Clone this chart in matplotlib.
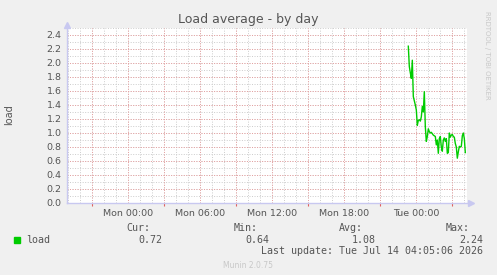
import matplotlib
matplotlib.use("Agg")
import matplotlib.pyplot as plt
import numpy as np

# time axis in hours relative to Mon 00:00, 5 minute samples
start_hour = 23.33
step_hours = 5 / 60
load = [2.24, 1.95, 1.86, 1.78, 2.04, 1.52, 1.46, 1.40, 1.33, 1.11,
        1.18, 1.19, 1.17, 1.23, 1.38, 1.30, 1.59, 1.09, 0.88, 0.95,
        1.06, 1.02, 1.00, 1.01, 0.99, 0.97, 0.96, 0.95, 0.83, 0.90,
        0.71, 0.92, 0.95, 0.80, 0.74, 0.90, 0.93, 0.88, 0.92, 0.71,
        0.72, 1.00, 0.94, 0.97, 0.98, 0.95, 0.94, 0.85, 0.80, 0.64,
        0.73, 0.81, 0.80, 0.81, 0.96, 1.00, 0.92, 0.72]
times = start_hour + step_hours * np.arange(len(load))

tick_hours = [0, 6, 12, 18, 24]
tick_labels = ["Mon 00:00", "Mon 06:00", "Mon 12:00", "Mon 18:00", "Tue 00:00"]
y_ticks = [0.0, 0.2, 0.4, 0.6, 0.8, 1.0, 1.2, 1.4, 1.6, 1.8, 2.0, 2.2, 2.4]

stats_names = ["Cur:", "Min:", "Avg:", "Max:"]
stats_values = ["0.72", "0.64", "1.08", "2.24"]
last_update = "Last update: Tue Jul 14 04:05:06 2026"

W, H = 497, 275
BG = "#F0F0F0"
TXT = "#555555"
AXC = "#C8C8F0"
MINOR = "#CCCCCC"
MAJOR = "#E8A0A0"
DOTS = (0, (1, 1.6))

fig = plt.figure(figsize=(W / 100, H / 100), dpi=100, facecolor=BG)
ax = fig.add_axes([67 / W, (H - 203) / H, 400 / W, 175 / H])
ax.set_facecolor("white")

xmin, xmax = -5.11, 28.22
ax.set_xlim(xmin, xmax)
ax.set_ylim(0, 2.5)

# minor grid (gray) every hour / 0.1, major grid (red) every 3 hours / 0.2
for h in np.arange(-5, 29, 1):
    ax.axvline(h, color=MINOR, lw=0.7, ls=DOTS, zorder=1)
for v in np.arange(0.1, 2.51, 0.1):
    ax.axhline(v, color=MINOR, lw=0.7, ls=DOTS, zorder=1)
for h in np.arange(-3, 29, 3):
    ax.axvline(h, color=MAJOR, lw=0.7, ls=DOTS, zorder=2)
for v in y_ticks[1:]:
    ax.axhline(v, color=MAJOR, lw=0.7, ls=DOTS, zorder=2)

ax.plot(times, load, color="#00CC00", lw=1.0, zorder=3)

ax.set_xticks(tick_hours)
ax.set_xticklabels(tick_labels)
ax.set_xticks(np.arange(-3, 29, 3), minor=True)
ax.set_yticks(y_ticks)
ax.set_yticklabels([f"{v:.1f}" for v in y_ticks])
ax.tick_params(axis="both", which="major", length=0, labelsize=6.8,
               labelcolor=TXT, pad=4)
ax.tick_params(axis="x", which="minor", length=2, width=0.8, color="#E06060",
               direction="out")
ax.tick_params(axis="y", which="minor", length=0)

for s in ["top", "right"]:
    ax.spines[s].set_visible(False)
for s in ["left", "bottom"]:
    ax.spines[s].set_color(AXC)
    ax.spines[s].set_linewidth(1.0)

# axis arrows
ax.plot([xmin], [2.55], marker="^", color=AXC, markersize=4, clip_on=False)
ax.plot([28.55], [0], marker=">", color=AXC, markersize=4, clip_on=False)

fig.text(248 / W, 1 - 19 / H, "Load average - by day", ha="center", va="center",
         fontsize=9, color=TXT)
fig.text(9 / W, 1 - 115 / H, "load", rotation=90, ha="center", va="center",
         fontsize=7, color=TXT)
fig.text(487 / W, 1 - 55 / H, "RRDTOOL / TOBI OETIKER", rotation=270,
         ha="center", va="center", fontsize=5, color="#C8C8C8")

mono = "DejaVu Sans Mono"
fig.patches.append(plt.Rectangle((14 / W, 1 - 243 / H), 6 / W, 6 / H,
                                 transform=fig.transFigure, color="#00CC00"))
fig.text(26 / W, 1 - 240 / H, "load", family=mono, fontsize=7.2, color=TXT,
         va="center")
name_right = [150, 258, 363, 470]
val_right = [162, 269, 376, 483]
for name, val, xn, xv in zip(stats_names, stats_values, name_right, val_right):
    fig.text(xn / W, 1 - 228 / H, name, family=mono, fontsize=7.2, color=TXT,
             ha="right", va="center")
    fig.text(xv / W, 1 - 240 / H, val, family=mono, fontsize=7.2, color=TXT,
             ha="right", va="center")
fig.text(483 / W, 1 - 251 / H, last_update, family=mono, fontsize=7.2,
         color=TXT, ha="right", va="center")
fig.text(248 / W, 1 - 265 / H, "Munin 2.0.75", fontsize=5.5, color="#C8C8C8",
         ha="center", va="center")

fig.savefig("out.png", dpi=100, facecolor=BG)
